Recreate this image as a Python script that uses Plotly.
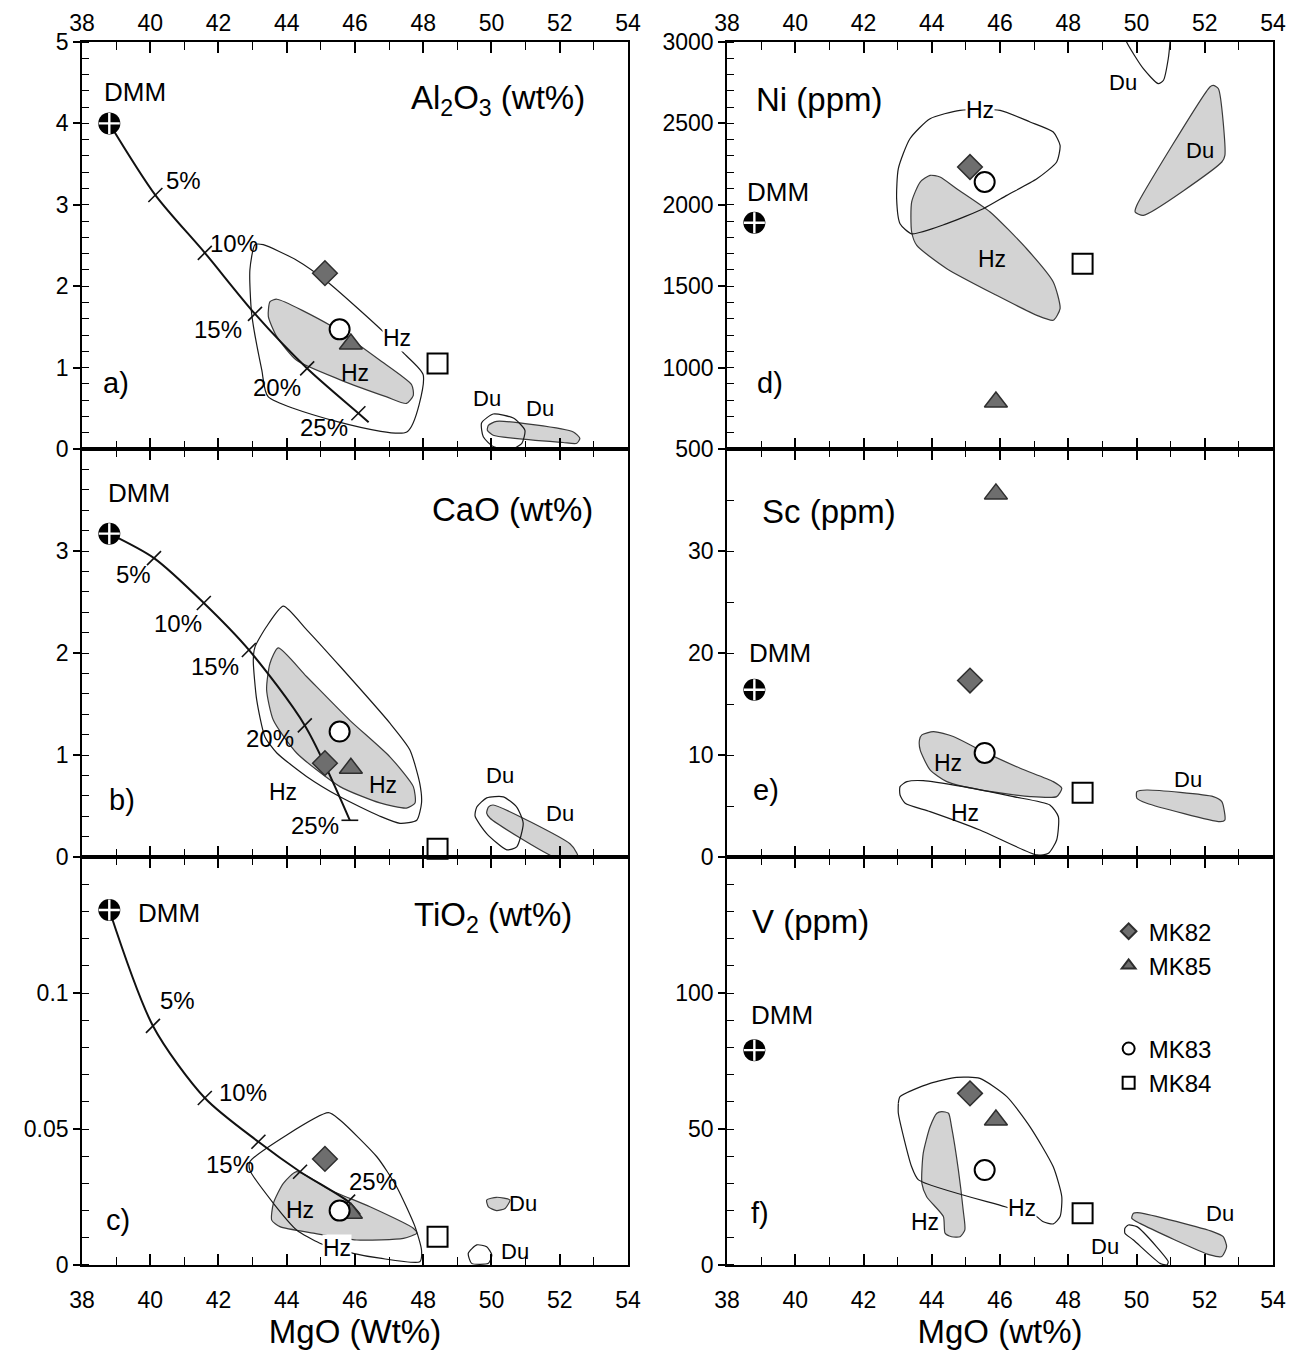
import plotly.graph_objects as go

FONT = "Liberation Sans, Arial, Helvetica, sans-serif"

# ---------------- sample data ----------------
sample_names = ["MK82", "MK85", "MK83", "MK84"]
sample_groups = ["filled", "filled", "open", "open"]
sample_mgo = [45.12, 45.88, 45.55, 48.42]
sample_al2o3 = [2.16, 1.29, 1.47, 1.05]
sample_cao = [0.92, 0.87, 1.23, 0.08]
sample_tio2 = [0.039, 0.019, 0.020, 0.0104]
sample_ni = [2232, 789, 2140, 1638]
sample_sc = [17.3, 35.6, 10.2, 6.3]
sample_v = [63.1, 53.3, 34.9, 19.0]

dmm_mgo = 38.8
dmm_al2o3 = 4.0
dmm_cao = 3.17
dmm_tio2 = 0.1305
dmm_ni = 1890
dmm_sc = 16.4
dmm_v = 79.0

# ---------------- melting curves ----------------
al_curve_mgo = [38.8, 40.15, 41.6, 43.07, 44.6, 46.1, 46.4]
al_curve_val = [4.0, 3.12, 2.41, 1.66, 0.99, 0.44, 0.33]
al_pct_labels = ["5%", "10%", "15%", "20%", "25%"]
al_pct_x = [40.97, 42.45, 42.0, 43.7, 45.1]
al_pct_y = [3.30, 2.53, 1.47, 0.75, 0.26]

ca_curve_mgo = [38.8, 40.11, 41.57, 42.89, 44.53, 45.85]
ca_curve_val = [3.17, 2.93, 2.49, 2.03, 1.29, 0.36]
ca_pct_labels = ["5%", "10%", "15%", "20%", "25%"]
ca_pct_x = [39.5, 40.8, 41.9, 43.5, 44.83]
ca_pct_y = [2.77, 2.29, 1.87, 1.16, 0.31]

ti_curve_mgo = [38.8, 40.08, 41.6, 43.17, 44.39, 45.8, 46.15]
ti_curve_val = [0.1305, 0.0879, 0.0614, 0.0453, 0.0343, 0.0233, 0.0185]
ti_pct_labels = ["5%", "10%", "15%", "25%"]
ti_pct_x = [40.81, 42.72, 42.35, 46.54]
ti_pct_y = [0.0974, 0.0633, 0.0368, 0.0306]

# ---------------- fields (polygons) ----------------
# a) Al2O3
a_hz_out_x = [43.07, 42.92, 42.97, 43.27, 43.46, 47.52, 48.0, 47.42, 46.78, 45.17, 44.29, 43.31]
a_hz_out_y = [2.51, 2.20, 1.67, 0.97, 0.64, 0.21, 0.91, 1.18, 1.46, 2.06, 2.32, 2.51]
a_hz_fill_x = [43.51, 43.71, 45.27, 46.73, 47.66, 47.71, 47.51, 46.93, 45.57, 44.29, 43.71, 43.46]
a_hz_fill_y = [1.81, 1.84, 1.52, 1.09, 0.79, 0.66, 0.56, 0.64, 0.85, 1.09, 1.38, 1.63]
a_du_out_x = [49.71, 50.05, 50.64, 50.98, 50.89, 50.54, 50.05, 49.76]
a_du_out_y = [0.32, 0.43, 0.38, 0.23, 0.07, -0.01, 0.03, 0.15]
a_du_fill_x = [49.91, 50.15, 52.40, 52.59, 52.50, 52.10, 50.05, 49.88]
a_du_fill_y = [0.29, 0.34, 0.21, 0.13, 0.07, 0.08, 0.17, 0.23]

# b) CaO
b_hz_out_x = [43.90, 44.58, 45.56, 47.03, 47.61, 47.90, 47.95, 47.81, 47.32, 46.73, 45.56, 44.58, 43.71, 43.36, 43.12, 43.02, 43.07, 43.41]
b_hz_out_y = [2.46, 2.23, 1.87, 1.31, 1.05, 0.72, 0.53, 0.36, 0.33, 0.40, 0.59, 0.79, 1.02, 1.18, 1.54, 1.93, 2.06, 2.26]
b_hz_fill_x = [43.75, 44.58, 45.85, 47.03, 47.71, 47.76, 47.51, 46.73, 45.56, 44.29, 43.61, 43.41, 43.51]
b_hz_fill_y = [2.05, 1.77, 1.34, 0.98, 0.69, 0.53, 0.48, 0.53, 0.69, 1.02, 1.34, 1.64, 1.90]
b_du_out_x = [49.57, 49.86, 50.35, 50.74, 50.93, 50.74, 50.45, 49.86, 49.52]
b_du_out_y = [0.49, 0.58, 0.59, 0.49, 0.33, 0.10, 0.07, 0.23, 0.40]
b_du_fill_x = [49.91, 50.05, 52.30, 52.50, 52.54, 51.91, 49.96, 49.86]
b_du_fill_y = [0.49, 0.51, 0.13, 0.04, -0.01, -0.01, 0.38, 0.43]

# c) TiO2
c_hz_out_x = [45.22, 42.92, 42.92, 43.61, 44.29, 44.97, 45.95, 46.73, 47.90, 47.95, 47.76, 47.22, 46.64, 45.56]
c_hz_out_y = [0.0560, 0.0380, 0.0349, 0.0227, 0.0129, 0.0080, 0.0043, 0.0025, 0.0012, 0.0055, 0.0141, 0.0288, 0.0398, 0.0533]
c_hz_fill_x = [44.29, 45.27, 46.44, 47.71, 47.81, 47.42, 46.05, 44.78, 43.80, 43.56, 43.61, 43.90]
c_hz_fill_y = [0.0343, 0.0276, 0.0214, 0.0135, 0.0117, 0.0098, 0.0092, 0.0117, 0.0141, 0.0165, 0.0227, 0.0300]
c_du_fill_x = [49.86, 50.15, 50.54, 50.40, 50.15, 49.91]
c_du_fill_y = [0.0239, 0.0249, 0.0239, 0.0208, 0.0200, 0.0214]
c_du_out_x = [49.32, 49.57, 49.86, 50.01, 49.91, 49.42]
c_du_out_y = [0.0043, 0.0074, 0.0067, 0.0037, 0.0006, 0.0006]

# d) Ni
d_hz_out_x = [42.97, 43.02, 43.36, 43.95, 44.83, 46.00, 46.88, 47.56, 47.76, 47.66, 47.08, 46.20, 45.51, 44.44, 43.41, 43.07]
d_hz_out_y = [2037, 2222, 2406, 2529, 2580, 2580, 2509, 2447, 2365, 2263, 2160, 2058, 1976, 1884, 1822, 1884]
d_hz_fill_x = [43.95, 43.66, 43.41, 43.41, 43.56, 44.44, 45.90, 47.08, 47.56, 47.76, 47.56, 46.78, 45.71, 44.73, 44.24]
d_hz_fill_y = [2181, 2140, 2017, 1833, 1751, 1608, 1444, 1321, 1291, 1362, 1526, 1730, 1956, 2099, 2171]
d_du_out_x = [49.55, 49.71, 50.20, 50.64, 50.79, 50.93, 50.98, 51.0]
d_du_out_y = [3100, 3000, 2836, 2744, 2765, 2897, 3000, 3100]
d_du_fill_x = [52.25, 52.40, 52.59, 52.50, 50.20, 49.96, 50.01, 52.15]
d_du_fill_y = [2734, 2713, 2304, 2263, 1935, 1956, 1997, 2724]

# e) Sc
e_hz_fill_x = [43.71, 44.05, 44.63, 45.41, 46.59, 47.56, 47.81, 47.66, 46.88, 45.41, 44.44, 43.95, 43.66, 43.64]
e_hz_fill_y = [11.97, 12.30, 11.81, 10.50, 8.70, 7.39, 6.74, 5.92, 5.92, 6.58, 7.39, 8.54, 10.50, 11.48]
e_hz_out_x = [43.07, 43.27, 43.75, 44.92, 46.39, 47.46, 47.71, 47.66, 47.42, 47.08, 45.41, 43.95, 43.22, 43.07]
e_hz_out_y = [6.90, 7.39, 7.49, 6.90, 5.92, 5.10, 3.95, 1.67, 0.36, 0.20, 2.65, 4.45, 5.27, 6.08]
e_du_fill_x = [50.01, 50.30, 52.25, 52.50, 52.59, 52.45, 50.30, 50.01]
e_du_fill_y = [6.41, 6.57, 5.92, 5.43, 3.63, 3.46, 5.27, 5.76]

# f) V
f_hz_out_x = [43.02, 43.07, 43.95, 44.73, 45.41, 46.20, 46.88, 47.56, 47.81, 47.76, 47.56, 47.27, 47.08]
f_hz_out_y = [59.4, 61.9, 66.8, 69.0, 68.6, 61.9, 50.8, 36.1, 25.1, 17.8, 15.1, 15.9, 17.8]
f_hz_out2_x = [47.08, 46.15, 43.61, 43.41, 43.02, 43.02]
f_hz_out2_y = [17.8, 21.4, 31.3, 36.1, 55.8, 59.4]
f_hz_fill_x = [44.29, 44.49, 44.58, 44.78, 44.92, 44.97, 44.83, 44.58, 44.39, 44.34, 43.85, 43.71, 43.75, 43.95, 44.15]
f_hz_fill_y = [56.4, 55.8, 50.8, 34.9, 20.2, 12.9, 10.4, 10.4, 11.7, 17.8, 25.1, 30.0, 41.1, 50.8, 55.8]
f_du_fill_x = [49.91, 50.10, 52.25, 52.54, 52.64, 52.50, 52.15, 50.10, 49.86]
f_du_fill_y = [19.0, 19.2, 12.2, 10.4, 6.7, 3.1, 3.7, 15.3, 17.2]
f_du_out_x = [49.66, 49.76, 50.01, 50.59, 50.93, 50.89, 50.69, 49.91, 49.66]
f_du_out_y = [13.5, 14.7, 14.1, 6.7, 1.2, 0.0, 0.6, 9.2, 11.7]

# ---------------- labels ----------------
panel_titles = ["Al<sub>2</sub>O<sub>3</sub> (wt%)", "CaO (wt%)", "TiO<sub>2</sub> (wt%)",
                "Ni (ppm)", "Sc (ppm)", "V (ppm)"]
panel_letters = ["a)", "b)", "c)", "d)", "e)", "f)"]

# ---------------- figure ----------------
fig = go.Figure()
AX = {"a": ("x", "y"), "d": ("x2", "y2"), "b": ("x3", "y3"),
      "e": ("x4", "y4"), "c": ("x5", "y5"), "f": ("x6", "y6")}

GRAY_FILL = "#d3d3d3"
GRAY_LINE = "#3a3a3a"

FS_TICK = 23
FS_TITLE = 33
FS_AXTITLE = 33
FS_DMM = 26
FS_PCT = 24
FS_HZ = 23
FS_DU = 22
FS_LETTER = 29
FS_LEGEND = 24


def poly(panel, xs, ys, gray, close=True):
    xr, yr = AX[panel]
    xs = list(xs)
    ys = list(ys)
    if close:
        xs = xs + [xs[0]]
        ys = ys + [ys[0]]
    if gray:
        fig.add_trace(go.Scatter(x=xs, y=ys, xaxis=xr, yaxis=yr, mode="lines",
                                 fill="toself", fillcolor=GRAY_FILL,
                                 line=dict(color=GRAY_LINE, width=1.2, shape="spline", smoothing=0.6),
                                 showlegend=False, hoverinfo="skip"))
    else:
        fig.add_trace(go.Scatter(x=xs, y=ys, xaxis=xr, yaxis=yr, mode="lines",
                                 line=dict(color="#1a1a1a", width=1.2, shape="spline", smoothing=0.6),
                                 showlegend=False, hoverinfo="skip"))


def curve(panel, xs, ys, tick_idx, end_idx=None):
    xr, yr = AX[panel]
    fig.add_trace(go.Scatter(x=xs, y=ys, xaxis=xr, yaxis=yr, mode="lines",
                             line=dict(color="#111", width=2, shape="spline", smoothing=0.8),
                             showlegend=False, hoverinfo="skip"))
    fig.add_trace(go.Scatter(x=[xs[i] for i in tick_idx], y=[ys[i] for i in tick_idx],
                             xaxis=xr, yaxis=yr, mode="markers",
                             marker=dict(symbol="line-ne", size=14, line=dict(color="#111", width=1.6)),
                             showlegend=False, hoverinfo="skip"))
    if end_idx is not None:
        fig.add_trace(go.Scatter(x=[xs[end_idx]], y=[ys[end_idx]], xaxis=xr, yaxis=yr, mode="markers",
                                 marker=dict(symbol="line-ew", size=12, line=dict(color="#111", width=1.6)),
                                 showlegend=False, hoverinfo="skip"))


SAMPLE_MARKERS = {
    "MK82": dict(symbol="diamond", size=19, color="#6e6e6e", line=dict(color="#2e2e2e", width=1.5)),
    "MK85": dict(symbol="triangle-up", size=20, color="#6e6e6e", line=dict(color="#2e2e2e", width=1.5)),
    "MK83": dict(symbol="circle", size=20, color="white", line=dict(color="black", width=2)),
    "MK84": dict(symbol="square", size=20, color="white", line=dict(color="black", width=2)),
}


def samples(panel, vals, legend=False):
    xr, yr = AX[panel]
    for i, nm in enumerate(sample_names):
        fig.add_trace(go.Scatter(x=[sample_mgo[i]], y=[vals[i]], xaxis=xr, yaxis=yr, mode="markers",
                                 marker=SAMPLE_MARKERS[nm], name=nm, legendgroup=sample_groups[i],
                                 showlegend=legend, hoverinfo="skip", cliponaxis=False))


def dmm(panel, val):
    xr, yr = AX[panel]
    fig.add_trace(go.Scatter(x=[dmm_mgo], y=[val], xaxis=xr, yaxis=yr, mode="markers",
                             marker=dict(symbol="circle", size=22, color="black"),
                             showlegend=False, hoverinfo="skip", cliponaxis=False))
    fig.add_trace(go.Scatter(x=[dmm_mgo], y=[val], xaxis=xr, yaxis=yr, mode="markers",
                             marker=dict(symbol="cross-thin", size=15, line=dict(color="white", width=2.4)),
                             showlegend=False, hoverinfo="skip", cliponaxis=False))


annotations = []


def label(panel, text, x, y, size, bg=None, xanchor="center"):
    xr, yr = AX[panel]
    a = dict(text=text, x=x, y=y, xref=xr, yref=yr, showarrow=False, xanchor=xanchor,
             font=dict(family=FONT, size=size, color="black"))
    if bg:
        a["bgcolor"] = bg
        a["borderpad"] = 0
    annotations.append(a)


# gray fields first, outlines on top
poly("a", a_hz_fill_x, a_hz_fill_y, True)
poly("a", a_du_fill_x, a_du_fill_y, True)
poly("a", a_hz_out_x, a_hz_out_y, False)
poly("a", a_du_out_x, a_du_out_y, False)

poly("b", b_hz_fill_x, b_hz_fill_y, True)
poly("b", b_du_fill_x, b_du_fill_y, True)
poly("b", b_hz_out_x, b_hz_out_y, False)
poly("b", b_du_out_x, b_du_out_y, False)

poly("c", c_hz_fill_x, c_hz_fill_y, True)
poly("c", c_du_fill_x, c_du_fill_y, True)
poly("c", c_hz_out_x, c_hz_out_y, False)
poly("c", c_du_out_x, c_du_out_y, False)

poly("d", d_hz_fill_x, d_hz_fill_y, True)
poly("d", d_du_fill_x, d_du_fill_y, True)
poly("d", d_hz_out_x, d_hz_out_y, False)
poly("d", d_du_out_x, d_du_out_y, False, close=False)

poly("e", e_hz_fill_x, e_hz_fill_y, True)
poly("e", e_du_fill_x, e_du_fill_y, True)
poly("e", e_hz_out_x, e_hz_out_y, False)

poly("f", f_hz_fill_x, f_hz_fill_y, True)
poly("f", f_du_fill_x, f_du_fill_y, True)
poly("f", f_hz_out_x, f_hz_out_y, False, close=False)
poly("f", f_hz_out2_x, f_hz_out2_y, False, close=False)
poly("f", f_du_out_x, f_du_out_y, False)

# melting curves
curve("a", al_curve_mgo, al_curve_val, [1, 2, 3, 4, 5])
curve("b", ca_curve_mgo, ca_curve_val, [1, 2, 3, 4], end_idx=5)
curve("c", ti_curve_mgo, ti_curve_val, [1, 2, 3, 4, 5])

for t, x, y in zip(al_pct_labels, al_pct_x, al_pct_y):
    label("a", t, x, y, FS_PCT)
for t, x, y in zip(ca_pct_labels, ca_pct_x, ca_pct_y):
    label("b", t, x, y, FS_PCT)
for t, x, y in zip(ti_pct_labels, ti_pct_x, ti_pct_y):
    label("c", t, x, y, FS_PCT)

# DMM and samples
dmm("a", dmm_al2o3); dmm("b", dmm_cao); dmm("c", dmm_tio2)
dmm("d", dmm_ni); dmm("e", dmm_sc); dmm("f", dmm_v)
samples("a", sample_al2o3)
samples("b", sample_cao)
samples("c", sample_tio2)
samples("d", sample_ni)
samples("e", sample_sc)
samples("f", sample_v, legend=True)

# field labels
label("a", "Hz", 47.22, 1.36, FS_HZ, bg="white")
label("a", "Hz", 46.0, 0.93, FS_HZ)
label("a", "Du", 49.86, 0.62, FS_DU)
label("a", "Du", 51.42, 0.50, FS_DU)
label("b", "Hz", 43.90, 0.64, FS_HZ)
label("b", "Hz", 46.83, 0.71, FS_HZ)
label("b", "Du", 50.25, 0.80, FS_DU)
label("b", "Du", 52.01, 0.43, FS_DU)
label("c", "Hz", 44.39, 0.0202, FS_HZ)
label("c", "Hz", 45.46, 0.0062, FS_HZ, bg="white")
label("c", "Du", 50.93, 0.0227, FS_DU)
label("c", "Du", 50.69, 0.0049, FS_DU)
label("d", "Hz", 45.41, 2580, FS_HZ, bg="white")
label("d", "Hz", 45.76, 1669, FS_HZ)
label("d", "Du", 49.61, 2754, FS_DU)
label("d", "Du", 51.86, 2335, FS_DU)
label("e", "Hz", 44.49, 9.2, FS_HZ)
label("e", "Hz", 44.97, 4.29, FS_HZ)
label("e", "Du", 51.52, 7.56, FS_DU)
label("f", "Hz", 43.80, 15.9, FS_HZ)
label("f", "Hz", 46.64, 20.8, FS_HZ, bg="white")
label("f", "Du", 49.08, 6.7, FS_DU)
label("f", "Du", 52.45, 19.0, FS_DU)

# DMM labels
label("a", "DMM", 39.55, 4.39, FS_DMM)
label("b", "DMM", 39.67, 3.57, FS_DMM)
label("c", "DMM", 40.54, 0.1294, FS_DMM)
label("d", "DMM", 39.49, 2081, FS_DMM)
label("e", "DMM", 39.55, 20.0, FS_DMM)
label("f", "DMM", 39.61, 91.9, FS_DMM)

# panel titles and letters
title_x = [50.19, 50.63, 50.04, 40.70, 40.98, 40.46]
title_y = [4.29, 3.41, 0.128, 2644, 33.9, 126.2]
letter_x = [39.0, 39.17, 39.05, 39.26, 39.14, 38.97]
letter_y = [0.81, 0.56, 0.0165, 905, 6.6, 19.1]
for p, t, x, y in zip("abcdef", panel_titles, title_x, title_y):
    label(p, t, x, y, FS_TITLE)
for p, t, x, y in zip("abcdef", panel_letters, letter_x, letter_y):
    label(p, t, x, y, FS_LETTER)

# ---------------- axes ----------------
XL = [0.0, 0.4584]
XR = [0.5416, 1.0]
Y1 = [0.6672, 1.0]
Y2 = [0.3336, 0.6672]
Y3 = [0.0, 0.3336]
TICKFONT = dict(family=FONT, size=FS_TICK, color="black")


def xax(domain, anchor, side, labels, title=None):
    d = dict(domain=domain, anchor=anchor, range=[38, 54], tickmode="linear", tick0=38, dtick=2,
             ticks="inside", ticklen=11, tickwidth=1.6, tickcolor="black",
             showline=True, linecolor="black", linewidth=1.6, mirror="ticks",
             showgrid=False, zeroline=False, side=side, showticklabels=labels,
             tickfont=TICKFONT, ticklabelstandoff=(0 if side == "top" else 14),
             automargin=False,
             minor=dict(tickmode="linear", tick0=38, dtick=1, ticks="inside", ticklen=8,
                        tickwidth=1.4, tickcolor="black", showgrid=False))
    if title:
        d["title"] = dict(text=title, font=dict(family=FONT, size=FS_AXTITLE, color="black"), standoff=6)
    return d


def yax(domain, anchor, rng, vals, texts, minor_step):
    n = int(round((rng[1] - rng[0]) / minor_step))
    mvals = [rng[0] + k * minor_step for k in range(n + 1)]
    return dict(domain=domain, anchor=anchor, range=rng, tickmode="array", tickvals=vals, ticktext=texts,
                ticks="outside", ticklen=7, tickwidth=1.6, tickcolor="black",
                showline=True, linecolor="black", linewidth=1.6, mirror=True,
                showgrid=False, zeroline=False, tickfont=TICKFONT, automargin=False,
                minor=dict(tickmode="array", tickvals=mvals, ticks="inside", ticklen=7,
                           tickwidth=1.4, tickcolor="black", showgrid=False))


fig.update_layout(
    width=1286, height=1350,
    margin=dict(l=74, r=21, t=34, b=93, autoexpand=False),
    paper_bgcolor="white", plot_bgcolor="white",
    font=dict(family=FONT, color="black"),
    showlegend=True,
    legend=dict(x=0.862, y=0.291, xanchor="left", yanchor="top",
                font=dict(family=FONT, size=FS_LEGEND, color="black"),
                bgcolor="rgba(0,0,0,0)", traceorder="grouped", tracegroupgap=49,
                itemsizing="constant"),
    annotations=annotations,
    xaxis=xax(XL, "y", "top", True),
    xaxis2=xax(XR, "y2", "top", True),
    xaxis3=xax(XL, "y3", "bottom", False),
    xaxis4=xax(XR, "y4", "bottom", False),
    xaxis5=xax(XL, "y5", "bottom", True, "MgO (Wt%)"),
    xaxis6=xax(XR, "y6", "bottom", True, "MgO (wt%)"),
    yaxis=yax(Y1, "x", [0, 5], [0, 1, 2, 3, 4, 5], ["0", "1", "2", "3", "4", "5"], 0.2),
    yaxis2=yax(Y1, "x2", [500, 3000], [500, 1000, 1500, 2000, 2500, 3000],
               ["500", "1000", "1500", "2000", "2500", "3000"], 100),
    yaxis3=yax(Y2, "x3", [0, 4], [0, 1, 2, 3], ["0", "1", "2", "3"], 0.2),
    yaxis4=yax(Y2, "x4", [0, 40], [0, 10, 20, 30], ["0", "10", "20", "30"], 5),
    yaxis5=yax(Y3, "x5", [0, 0.15], [0, 0.05, 0.1], ["0", "0.05", "0.1"], 0.01),
    yaxis6=yax(Y3, "x6", [0, 150], [0, 50, 100], ["0", "50", "100"], 10),
)

fig.write_html("out.html")
